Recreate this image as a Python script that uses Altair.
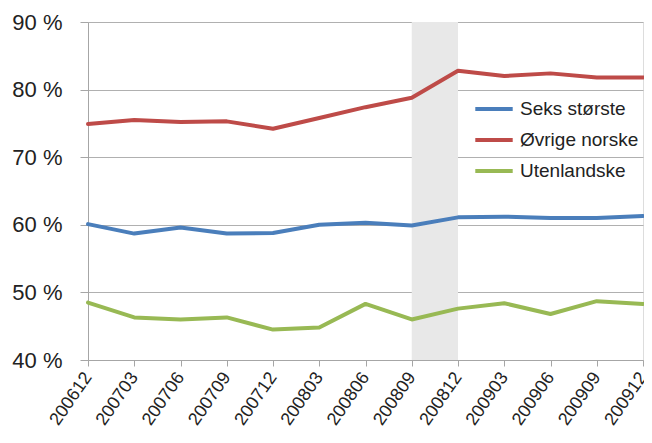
import altair as alt
import pandas as pd

periods = ["200612", "200703", "200706", "200709", "200712", "200803", "200806",
           "200809", "200812", "200903", "200906", "200909", "200912"]
seks = [60.1, 58.7, 59.6, 58.7, 58.8, 60.0, 60.3, 59.9, 61.1, 61.2, 61.0, 61.0, 61.3]
ovrige = [74.9, 75.5, 75.2, 75.3, 74.2, 75.8, 77.4, 78.8, 82.8, 82.0, 82.4, 81.8, 81.8]
utenl = [48.5, 46.3, 46.0, 46.3, 44.5, 44.8, 48.3, 46.0, 47.6, 48.4, 46.8, 48.7, 48.3]
series_names = ["Seks største", "Øvrige norske", "Utenlandske"]
series_colors = ["#4a7ebb", "#be4b48", "#98b954"]
shade_start = "200809"
shade_end = "200812"
y_ticks = [40, 50, 60, 70, 80, 90]

rows = []
for name, vals in zip(series_names, [seks, ovrige, utenl]):
    for p, v in zip(periods, vals):
        rows.append({"periode": p, "serie": name, "verdi": v})
df = pd.DataFrame(rows)
shade_df = pd.DataFrame({"periode": [shade_start], "slutt": [shade_end]})

W, H = 555, 338
font = "Liberation Sans"

xscale = alt.Scale(type="point", domain=periods, padding=0)
yscale = alt.Scale(domain=[40, 90], nice=False, zero=False)
xaxis = alt.Axis(labelAngle=-55, labelAlign="right", labelBaseline="middle",
                 labelFontSize=18, labelFont=font, labelColor="#222222",
                 labelPadding=8, tickSize=6, tickColor="#a6a6a6",
                 domainColor="#a6a6a6", grid=False, labelOverlap=False)

shade = alt.Chart(shade_df).mark_rect(color="#e8e8e8").encode(
    x=alt.X("periode:O", scale=xscale, title=None, axis=xaxis),
    x2="slutt:O",
    y=alt.value(0),
    y2=alt.value(H),
)

lines = alt.Chart(df).mark_line(strokeWidth=4, strokeCap="round", strokeJoin="round").encode(
    x=alt.X("periode:O", scale=xscale, title=None, axis=xaxis),
    y=alt.Y("verdi:Q", scale=yscale, title=None,
            axis=alt.Axis(values=y_ticks, labelExpr="datum.value + ' %'",
                          labelFontSize=22, labelFont=font, labelColor="#222222",
                          labelPadding=18, tickSize=8, tickColor="#a6a6a6",
                          domainColor="#a6a6a6", gridColor="#b0b0b0", gridWidth=1.2)),
    color=alt.Color("serie:N",
                    scale=alt.Scale(domain=series_names, range=series_colors),
                    sort=series_names,
                    legend=alt.Legend(title=None, orient="none", legendX=385, legendY=66,
                                      symbolType="stroke", symbolSize=1400,
                                      symbolStrokeWidth=4, labelFontSize=19,
                                      labelFont=font, labelColor="#222222",
                                      rowPadding=0, labelOffset=5)),
    detail="serie:N",
)

chart = alt.layer(shade, lines).properties(
    width=W, height=H,
    autosize=alt.AutoSizeParams(type="none"),
    padding={"left": 80, "top": 14, "right": 1, "bottom": 74},
).configure_view(stroke=None).configure(background="white")

chart.save("out.html", embed_options={"renderer": "svg", "actions": False})
